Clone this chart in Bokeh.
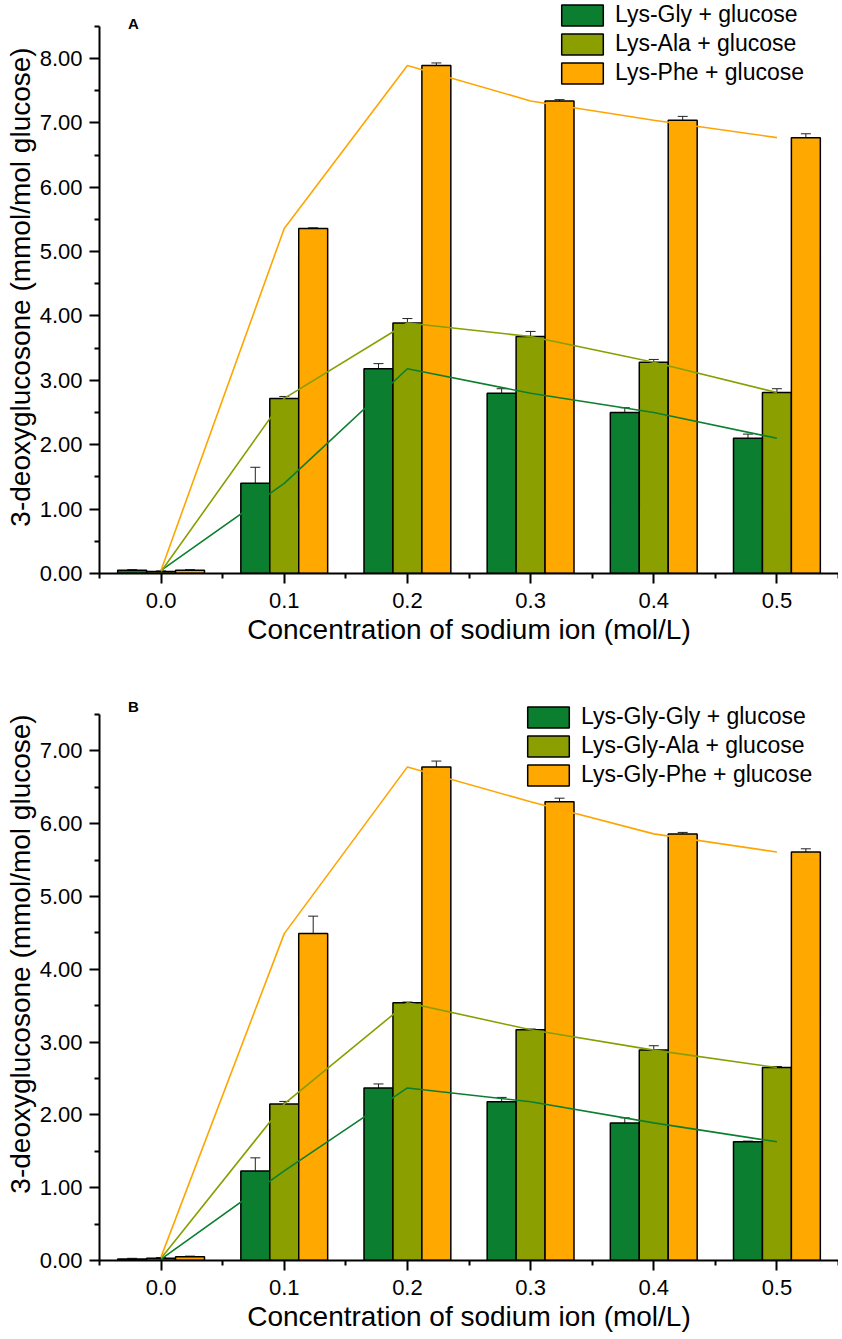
from bokeh.plotting import figure
from bokeh.models import (ColumnDataSource, Whisker, TeeHead, FixedTicker,
                          NumeralTickFormatter, Legend, LegendItem, Label, Range1d)
from bokeh.layouts import column
from bokeh.transform import dodge
from bokeh.embed import file_html
from bokeh.resources import INLINE

# ---------------- data ----------------
conc = [0.0, 0.1, 0.2, 0.3, 0.4, 0.5]
x_ticks = [0.0, 0.1, 0.2, 0.3, 0.4, 0.5]
x_minor = [-0.05, 0.05, 0.15, 0.25, 0.35, 0.45, 0.55]

a_names = ["Lys-Gly + glucose", "Lys-Ala + glucose", "Lys-Phe + glucose"]
a_gly = [0.05, 1.40, 3.18, 2.80, 2.50, 2.10]
a_gly_err = [0.01, 0.25, 0.08, 0.07, 0.075, 0.065]
a_ala = [0.03, 2.72, 3.89, 3.68, 3.28, 2.81]
a_ala_err = [0.01, 0.03, 0.07, 0.08, 0.045, 0.06]
a_phe = [0.05, 5.36, 7.89, 7.34, 7.04, 6.77]
a_phe_err = [0.01, 0.01, 0.04, 0.02, 0.06, 0.06]
a_y_ticks = [0, 1, 2, 3, 4, 5, 6, 7, 8]
a_y_minor = [0.5, 1.5, 2.5, 3.5, 4.5, 5.5, 6.5, 7.5, 8.5]
a_y_max = 8.5

b_names = ["Lys-Gly-Gly + glucose", "Lys-Gly-Ala + glucose", "Lys-Gly-Phe + glucose"]
b_gg = [0.02, 1.23, 2.37, 2.18, 1.89, 1.63]
b_gg_err = [0.01, 0.18, 0.055, 0.06, 0.07, 0.01]
b_ga = [0.03, 2.15, 3.54, 3.17, 2.89, 2.65]
b_ga_err = [0.01, 0.035, 0.01, 0.01, 0.06, 0.015]
b_gp = [0.05, 4.49, 6.78, 6.30, 5.86, 5.61]
b_gp_err = [0.01, 0.24, 0.08, 0.05, 0.02, 0.045]
b_y_ticks = [0, 1, 2, 3, 4, 5, 6, 7]
b_y_minor = [0.5, 1.5, 2.5, 3.5, 4.5, 5.5, 6.5, 7.5]
b_y_max = 7.5

colors = ["#0B7F2F", "#8C9F00", "#FFA800"]
line_colors = ["#0B7F2F", "#85A000", "#FFA500"]

FONT = "Liberation Sans"
BAR_W = 0.0235
OFFSETS = [-BAR_W, 0.0, BAR_W]


def make_panel(letter, names, series, errors, ymax, view_top, frame_h,
               yticks, yminor, legend_loc, letter_y):
    p = figure(frame_width=739, frame_height=frame_h,
               x_range=Range1d(-0.05, 0.55), y_range=Range1d(0, view_top),
               output_backend="svg", toolbar_location=None,
               min_border_left=99, min_border_right=0,
               min_border_top=0, min_border_bottom=0)
    p.background_fill_color = "white"
    p.border_fill_color = "white"
    p.outline_line_color = None
    p.xgrid.visible = False
    p.ygrid.visible = False

    items = []
    for name, vals, errs, off, col in zip(names, series, errors, OFFSETS, colors):
        src = ColumnDataSource(dict(
            x=conc, top=vals,
            xb=[c + off for c in conc],
            upper=[v + e for v, e in zip(vals, errs)],
            lower=[v - e for v, e in zip(vals, errs)],
        ))
        r = p.vbar(x=dodge("x", off, range=p.x_range), top="top", bottom=0,
                   width=BAR_W, source=src, fill_color=col,
                   line_color="black", line_width=1.5)
        items.append(LegendItem(label=name, renderers=[r]))
        w = Whisker(source=src, base="xb", upper="upper", lower="lower",
                    dimension="height", line_color="#222222", line_width=1,
                    upper_head=TeeHead(size=10, line_color="#222222", line_width=1),
                    lower_head=TeeHead(size=10, line_color="#222222", line_width=1))
        p.add_layout(w)

    for name, vals, lc in zip(names, series, line_colors):
        p.line(x=conc, y=vals, line_color=lc, line_width=1.6)

    legend = Legend(items=items, location=legend_loc)
    legend.glyph_width = 52
    legend.glyph_height = 26
    legend.label_height = 26
    legend.spacing = 2
    legend.padding = 0
    legend.margin = 0
    legend.label_standoff = 7
    legend.border_line_color = None
    legend.background_fill_alpha = 0
    legend.label_text_font = FONT
    legend.label_text_font_size = "23px"
    legend.label_text_color = "black"
    p.add_layout(legend)

    p.add_layout(Label(x=-0.0224, y=letter_y, text=letter, text_font=FONT,
                       text_font_style="bold", text_font_size="15px",
                       text_align="center", text_baseline="middle",
                       text_color="black"))

    p.xaxis.ticker = FixedTicker(ticks=x_ticks, minor_ticks=x_minor)
    p.yaxis.ticker = FixedTicker(ticks=yticks, minor_ticks=yminor)
    p.yaxis.bounds = (0, ymax)
    p.xaxis.formatter = NumeralTickFormatter(format="0.0")
    p.yaxis.formatter = NumeralTickFormatter(format="0.00")
    for ax in (p.xaxis, p.yaxis):
        ax.axis_line_width = 2
        ax.axis_line_color = "black"
        ax.major_tick_line_width = 2
        ax.minor_tick_line_width = 2
        ax.major_tick_line_color = "black"
        ax.minor_tick_line_color = "black"
        ax.major_tick_out = 10
        ax.major_tick_in = 0
        ax.minor_tick_out = 5
        ax.minor_tick_in = 0
        ax.major_label_text_font = FONT
        ax.major_label_text_font_size = "22px"
        ax.major_label_text_color = "black"
        ax.axis_label_text_font = FONT
        ax.axis_label_text_font_size = "28px"
        ax.axis_label_text_font_style = "normal"
        ax.axis_label_text_color = "black"
    p.xaxis.axis_label = "Concentration of sodium ion (mol/L)"
    p.yaxis.axis_label = "3-deoxyglucosone (mmol/mol glucose)"
    p.xaxis.major_label_standoff = 9
    p.xaxis.axis_label_standoff = 3
    p.yaxis.major_label_standoff = 7
    p.yaxis.axis_label_standoff = 1
    return p


pA = make_panel("A", a_names, [a_gly, a_ala, a_phe],
                [a_gly_err, a_ala_err, a_phe_err], a_y_max, 8.9, 573,
                a_y_ticks, a_y_minor, (457, 487), 8.55)
pB = make_panel("B", b_names, [b_gg, b_ga, b_gp],
                [b_gg_err, b_ga_err, b_gp_err], b_y_max, 8.42, 613,
                b_y_ticks, b_y_minor, (423, 472), 7.61)

layout = column(pA, pB, spacing=0)
open("out.html", "w").write(file_html(layout, INLINE))
